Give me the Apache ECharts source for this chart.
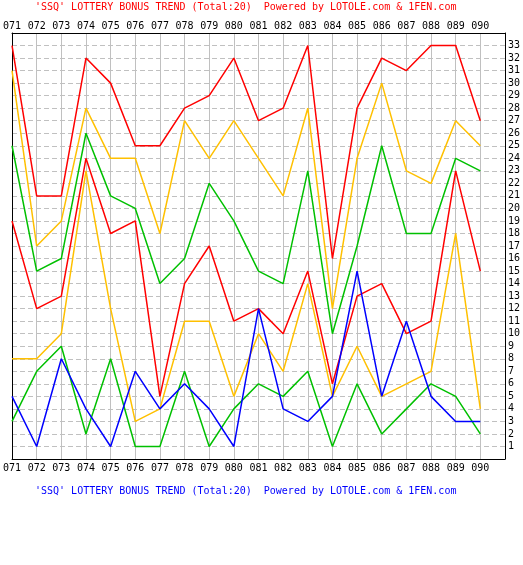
<!DOCTYPE html>
<html><head><meta charset="utf-8">
<script src="https://cdn.jsdelivr.net/npm/echarts@6/dist/echarts.min.js"></script>
<style>html,body{margin:0;padding:0;background:#fff}#c{width:523px;height:565px}</style>
</head><body><div id="c"></div>
<script>
const issues = ['071','072','073','074','075','076','077','078','079','080','081','082','083','084','085','086','087','088','089','090'];
const red6  = [33,21,21,32,30,25,25,28,29,32,27,28,33,16,28,32,31,33,33,27];
const red5  = [31,17,19,28,24,24,18,27,24,27,24,21,28,12,24,30,23,22,27,25];
const red4  = [25,15,16,26,21,20,14,16,22,19,15,14,23,10,17,25,18,18,24,23];
const red3  = [19,12,13,24,18,19,5,14,17,11,12,10,15,6,13,14,10,11,23,15];
const red2  = [8,8,10,23,12,3,4,11,11,5,10,7,14,5,9,5,6,7,18,4];
const red1  = [3,7,9,2,8,1,1,7,1,4,6,5,7,1,6,2,4,6,5,2];
const blue  = [5,1,8,4,1,7,4,6,4,1,12,4,3,5,15,5,11,5,3,3];
const titleText = "'SSQ' LOTTERY BONUS TREND (Total:20)  Powered by LOTOLE.com & 1FEN.com";

const FONT = 'DejaVu Sans Mono';
const toPts = arr => arr.map((v, i) => [i, v]);
const mk = (arr, color) => ({
  type: 'line', data: toPts(arr), symbol: 'none', silent: true,
  lineStyle: { color: color, width: 1.5 }, xAxisIndex: 0, yAxisIndex: 0
});
const chart = echarts.init(document.getElementById('c'));
chart.setOption({
  animation: false,
  backgroundColor: '#fff',
  title: [
    { text: titleText, left: 35, top: 2, padding: 0, textStyle: { color: '#ff0000', fontFamily: FONT, fontSize: 10, fontWeight: 'normal' } },
    { text: titleText, left: 35, top: 486, padding: 0, textStyle: { color: '#0000ff', fontFamily: FONT, fontSize: 10, fontWeight: 'normal' } }
  ],
  grid: { left: 8, right: 15, top: 33, bottom: 106, containLabel: false },
  xAxis: [
    { type: 'value', min: 0, max: 20, interval: 1, position: 'bottom',
      axisLine: { show: true, onZero: false, lineStyle: { color: '#000', width: 1 } },
      axisTick: { show: false },
      axisLabel: { formatter: v => issues[v] || '', color: '#000', fontFamily: FONT, fontSize: 10, margin: 4 },
      splitLine: { show: true, lineStyle: { color: '#c0c0c0', width: 1 } } },
    { type: 'value', min: 0, max: 20, interval: 1, position: 'top',
      axisLine: { show: true, onZero: false, lineStyle: { color: '#000', width: 1 } },
      axisTick: { show: false },
      axisLabel: { formatter: v => issues[v] || '', color: '#000', fontFamily: FONT, fontSize: 10, margin: 2 },
      splitLine: { show: false } }
  ],
  yAxis: [
    { type: 'value', min: 0, max: 34, interval: 1, position: 'right',
      axisLine: { show: true, onZero: false, lineStyle: { color: '#000', width: 1 } },
      axisTick: { show: false },
      axisLabel: { formatter: v => (v >= 1 && v <= 33) ? String(v) : '', color: '#000', fontFamily: FONT, fontSize: 10, margin: 3, align: 'left' },
      splitLine: { show: true, lineStyle: { color: '#c0c0c0', width: 1, type: [5, 3] } } },
    { type: 'value', min: 0, max: 34, interval: 1, position: 'left',
      axisLine: { show: true, onZero: false, lineStyle: { color: '#000', width: 1 } },
      axisTick: { show: false }, axisLabel: { show: false }, splitLine: { show: false } }
  ],
  series: [
    mk(red6, '#ff0000'),
    mk(red5, '#ffc000'),
    mk(red4, '#00c000'),
    mk(red3, '#ff0000'),
    mk(red2, '#ffc000'),
    mk(red1, '#00c000'),
    mk(blue, '#0000ff')
  ]
});
</script>
</body></html>
